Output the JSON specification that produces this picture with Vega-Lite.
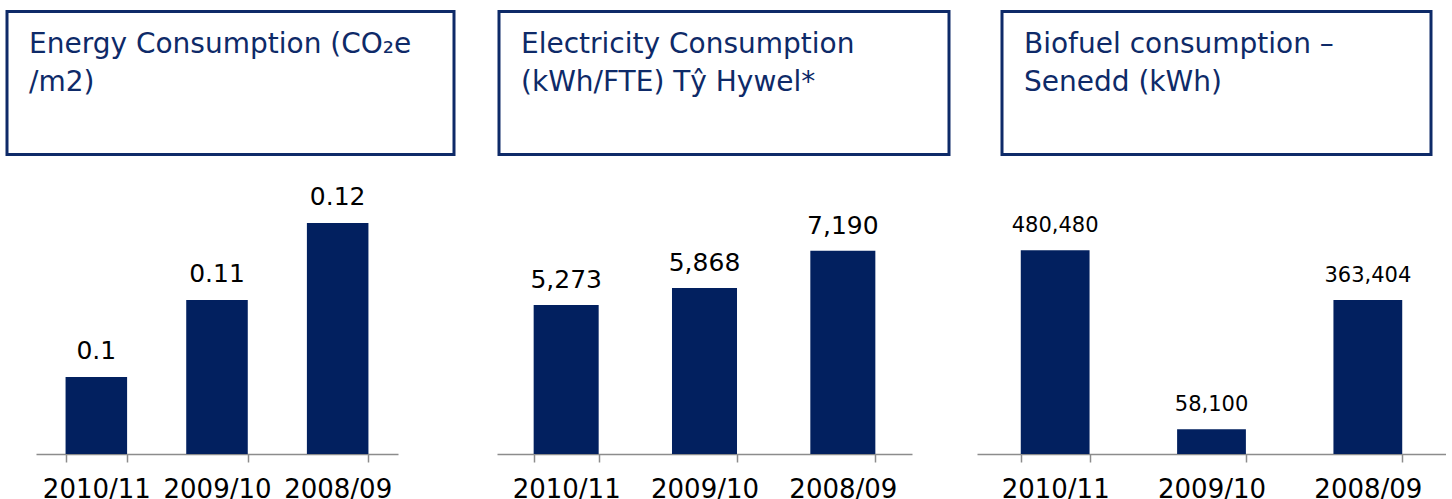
{
  "$schema": "https://vega.github.io/schema/vega-lite/v6.json",
  "padding": {"left": 0, "top": 9.5, "right": 0, "bottom": 0},
  "background": "white",
  "datasets": {
    "energy": [
      {"year": "2010/11", "value": 0.1},
      {"year": "2009/10", "value": 0.11},
      {"year": "2008/09", "value": 0.12}
    ],
    "electricity": [
      {"year": "2010/11", "value": 5273},
      {"year": "2009/10", "value": 5868},
      {"year": "2008/09", "value": 7190}
    ],
    "biofuel": [
      {"year": "2010/11", "value": 480480},
      {"year": "2009/10", "value": 58100},
      {"year": "2008/09", "value": 363404}
    ],
    "empty": []
  },
  "spacing": 17.5,
  "vconcat": [
    {
      "spacing": 0,
      "hconcat": [
        {"width": 4.5, "height": 143, "data": {"name": "empty"}, "mark": "point"},
        {
          "width": 447, "height": 143, "data": {"name": "empty"}, "mark": "point",
          "view": {"stroke": "#0e2a68", "strokeWidth": 3},
          "title": {"text": ["Energy Consumption (CO₂e", "/m2)"], "orient": "top", "anchor": "start", "frame": "group", "offset": -66, "dx": 22, "dy": 41, "baseline": "alphabetic", "align": "left", "lineHeight": 38, "fontSize": 28, "fontWeight": "normal", "color": "#0e2a68", "font": "DejaVu Sans"}
        },
        {"width": 41, "height": 143, "data": {"name": "empty"}, "mark": "point"},
        {
          "width": 450, "height": 143, "data": {"name": "empty"}, "mark": "point",
          "view": {"stroke": "#0e2a68", "strokeWidth": 3},
          "title": {"text": ["Electricity Consumption", "(kWh/FTE) Tŷ Hywel*"], "orient": "top", "anchor": "start", "frame": "group", "offset": -66, "dx": 22, "dy": 41, "baseline": "alphabetic", "align": "left", "lineHeight": 38, "fontSize": 28, "fontWeight": "normal", "color": "#0e2a68", "font": "DejaVu Sans"}
        },
        {"width": 49, "height": 143, "data": {"name": "empty"}, "mark": "point"},
        {
          "width": 429, "height": 143, "data": {"name": "empty"}, "mark": "point",
          "view": {"stroke": "#0e2a68", "strokeWidth": 3},
          "title": {"text": ["Biofuel consumption –", "Senedd (kWh)"], "orient": "top", "anchor": "start", "frame": "group", "offset": -66, "dx": 22, "dy": 41, "baseline": "alphabetic", "align": "left", "lineHeight": 38, "fontSize": 28, "fontWeight": "normal", "color": "#0e2a68", "font": "DejaVu Sans"}
        }
      ]
    },
    {
      "spacing": 0,
      "hconcat": [
        {"width": 36, "height": 280, "data": {"name": "empty"}, "mark": "point"},
        {
          "width": 362, "height": 280,
          "data": {"name": "energy"},
          "encoding": {
            "x": {"field": "year", "type": "nominal", "sort": null, "scale": {"paddingInner": 0.49, "paddingOuter": 0.245}, "axis": {"title": null}},
            "y": {"field": "value", "type": "quantitative", "scale": {"domain": [0.09, 0.126364], "zero": false}, "axis": null}
          },
          "layer": [
            {"mark": {"type": "bar", "color": "#02205f"}, "encoding": {"y2": {"datum": 0.09}}},
            {"mark": {"type": "text", "dy": -18, "baseline": "alphabetic", "fontSize": 25, "color": "black"}, "encoding": {"text": {"field": "value", "type": "quantitative"}}}
          ]
        },
        {"width": 99, "height": 280, "data": {"name": "empty"}, "mark": "point"},
        {
          "width": 415, "height": 280,
          "data": {"name": "electricity"},
          "encoding": {
            "x": {"field": "year", "type": "nominal", "sort": null, "scale": {"paddingInner": 0.53, "paddingOuter": 0.265}, "axis": {"title": null}},
            "y": {"field": "value", "type": "quantitative", "scale": {"domain": [0, 9904]}, "axis": null}
          },
          "layer": [
            {"mark": {"type": "bar", "color": "#02205f"}},
            {"mark": {"type": "text", "dy": -17, "baseline": "alphabetic", "fontSize": 25, "color": "black"}, "encoding": {"text": {"field": "value", "type": "quantitative", "format": ","}}}
          ]
        },
        {"width": 65, "height": 280, "data": {"name": "empty"}, "mark": "point"},
        {
          "width": 469, "height": 280,
          "data": {"name": "biofuel"},
          "encoding": {
            "x": {"field": "year", "type": "nominal", "sort": null, "scale": {"paddingInner": 0.56, "paddingOuter": 0.28}, "axis": {"title": null}},
            "y": {"field": "value", "type": "quantitative", "scale": {"domain": [0, 660240]}, "axis": null}
          },
          "layer": [
            {"mark": {"type": "bar", "color": "#02205f"}},
            {"mark": {"type": "text", "dy": -18, "baseline": "alphabetic", "fontSize": 21, "color": "black"}, "encoding": {"text": {"field": "value", "type": "quantitative", "format": ","}}}
          ]
        }
      ]
    }
  ],
  "config": {
    "font": "DejaVu Sans",
    "view": {"stroke": null},
    "axis": {"grid": false},
    "axisX": {
      "domainColor": "#8c8c8c", "domainWidth": 1.5,
      "tickColor": "#8c8c8c", "tickWidth": 1.5, "tickSize": 8, "tickBand": "extent",
      "labelFontSize": 26, "labelColor": "black", "labelPadding": 14, "labelAngle": 0,
      "labelFont": "DejaVu Sans", "labelOverlap": false
    }
  }
}
